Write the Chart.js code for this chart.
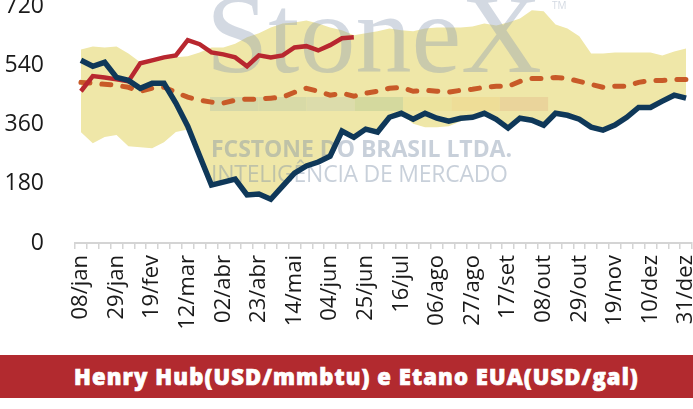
<!DOCTYPE html>
<html>
<head>
<meta charset="utf-8">
<script src="https://cdn.jsdelivr.net/npm/chart.js@4"></script>
<style>
body { margin: 0; background: #fff; width: 693px; height: 409px; overflow: hidden; }
#wrap { position: relative; width: 693px; height: 352px; }
#banner {
  position: absolute; left: 0; top: 355px; width: 693px; height: 43px;
  background: #b22a2f; color: #fff; font: 800 22px "Open Sans", sans-serif;
  -webkit-text-stroke: 0.7px #fff; letter-spacing: 1.1px;
  line-height: 43px; text-align: center; padding-left: 20px; box-sizing: border-box;
}
</style>
</head>
<body>
<div id="wrap"><canvas id="lineChart"></canvas></div>
<div id="banner">Henry Hub(USD/mmbtu) e Etano EUA(USD/gal)</div>
<script>
var weeks = ['08/jan','15/jan','22/jan','29/jan','05/fev','12/fev','19/fev','26/fev','05/mar','12/mar','19/mar','26/mar',
  '02/abr','09/abr','16/abr','23/abr','30/abr','07/mai','14/mai','21/mai','28/mai','04/jun','11/jun','18/jun','25/jun',
  '02/jul','09/jul','16/jul','23/jul','30/jul','06/ago','13/ago','20/ago','27/ago','03/set','10/set','17/set','24/set',
  '01/out','08/out','15/out','22/out','29/out','05/nov','12/nov','19/nov','26/nov','03/dez','10/dez','17/dez','24/dez','31/dez'];

// linha azul (ano atual)
var current = [555,537,549,503,494,470,485,485,425,355,265,176,185,194,146,149,133,173,212,234,246,264,340,321,346,
  337,382,394,376,394,379,370,379,382,394,376,349,379,373,358,394,388,376,352,343,358,382,412,412,431,449,440];
// linha vermelha (ano anterior, so ate junho)
var previous = [461,507,503,497,491,546,555,564,570,616,604,579,573,564,537,570,564,570,594,598,585,601,622,625];
// media (tracejada)
var average = [488,485,482,479,473,461,470,473,458,443,434,428,425,434,437,437,440,443,458,470,461,449,455,446,455,
  461,470,473,461,464,461,458,464,467,473,476,476,491,500,500,503,500,491,482,473,476,476,488,494,494,497,497];
// faixa min/max
var bandMax = [588,597,594,597,576,549,558,561,564,567,579,594,594,605,625,637,655,667,670,676,667,655,646,631,637,
  643,652,646,643,652,655,655,655,658,667,661,670,682,707,704,664,652,628,576,576,579,579,579,579,570,582,591];
var bandMin = [337,303,322,328,294,291,288,306,337,345,262,174,183,192,144,147,131,171,210,232,244,262,338,319,344,
  335,380,392,362,352,352,355,370,380,392,374,347,377,371,356,392,386,374,350,341,356,380,410,410,429,447,438];

var stripColors = ['#d6d8a8','#d8daa7','#dcdcab','#d4d99e','#ece39d','#eedd97','#ead49b'];

function fitText(ctx, text, x, y, width) {
  ctx.letterSpacing = '0px';
  var w = ctx.measureText(text).width;
  var ls = (width - w) / (text.length - 1);
  ctx.letterSpacing = ls + 'px';
  ctx.fillText(text, x, y);
  ctx.letterSpacing = '0px';
}

var watermark = {
  id: 'watermark',
  afterDatasetDraw: function(chart, args) {
    if (args.index !== 3) return;
    var c = chart.ctx;
    c.save();
    c.textBaseline = 'alphabetic';
    c.textAlign = 'left';
    c.fillStyle = 'rgba(140,155,180,0.38)';
    c.font = '112px "Liberation Serif"';
    c.fillText('StoneX', 206, 72);
    c.font = '10px "Open Sans"';
    c.fillText('TM', 552, 9);
    for (var i = 0; i < stripColors.length; i++) {
      c.fillStyle = stripColors[i];
      c.fillRect(210 + i * 48.3, 97, 48.3, 14);
    }
    c.fillStyle = 'rgba(125,142,168,0.42)';
    c.font = 'bold 23px "Open Sans"';
    fitText(c, 'FCSTONE DO BRASIL LTDA.', 211, 157, 301);
    c.font = '23px "Open Sans"';
    fitText(c, 'INTELIGÊNCIA DE MERCADO', 211, 182, 297);
    c.restore();
  }
};

var ctx = document.getElementById('lineChart').getContext('2d');
var myChart = new Chart(ctx, {
  type: 'line',
  data: {
    labels: weeks,
    datasets: [{
      data: current,
      borderColor: '#0f3859',
      borderWidth: 5.5,
      order: 1
    }, {
      data: previous,
      borderColor: '#b8272f',
      borderWidth: 4.5,
      order: 2
    }, {
      data: average,
      borderColor: '#c85a28',
      borderWidth: 5,
      borderDash: [9, 12],
      borderCapStyle: 'round',
      order: 3
    }, {
      data: bandMax,
      borderWidth: 0,
      borderColor: 'rgba(0,0,0,0)',
      backgroundColor: '#efe7a8',
      fill: '+1',
      order: 4
    }, {
      data: bandMin,
      borderWidth: 0,
      borderColor: 'rgba(0,0,0,0)',
      fill: false,
      order: 5
    }]
  },
  options: {
    responsive: true,
    maintainAspectRatio: false,
    animation: false,
    layout: { autoPadding: false, padding: { top: 0, right: 1, bottom: 0, left: 0 } },
    elements: { point: { radius: 0 }, line: { tension: 0 } },
    plugins: { legend: { display: false }, tooltip: { enabled: false } },
    scales: {
      x: {
        offset: true,
        grid: { drawOnChartArea: false, offset: true, tickLength: 6, color: '#d4d4d4', lineWidth: 1.5 },
        border: { display: true, color: '#d4d4d4', width: 2 },
        ticks: {
          autoSkip: false, maxRotation: 90, minRotation: 90, padding: 6, color: '#1a1a1a',
          font: { family: 'Open Sans', size: 22 },
          callback: function(v, i) { return i % 3 === 0 ? weeks[i] : ''; }
        },
        afterFit: function(s) { s.height = 109; s.paddingLeft = 0; s.paddingRight = 0; }
      },
      y: {
        min: 0, max: 720,
        grid: { display: false },
        border: { display: false },
        ticks: { stepSize: 180, padding: 23, color: '#1a1a1a', font: { family: 'Open Sans', size: 23 } },
        afterFit: function(s) { s.width = 75; s.paddingTop = 6; s.paddingBottom = 0; }
      }
    }
  },
  plugins: [watermark]
});
</script>
</body>
</html>
